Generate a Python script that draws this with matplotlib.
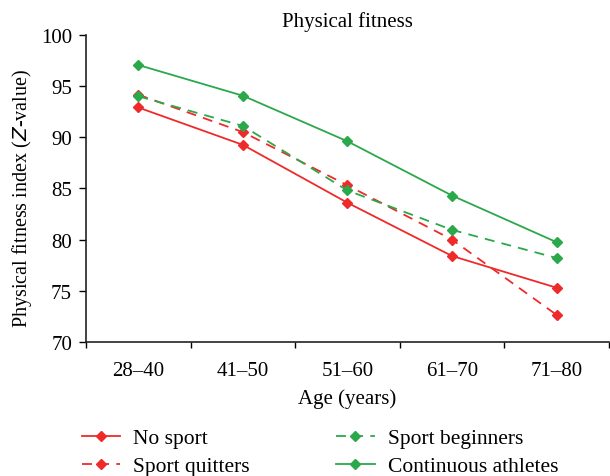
import matplotlib
matplotlib.use("Agg")
import matplotlib.pyplot as plt

categories = ["28–40", "41–50", "51–60", "61–70", "71–80"]
no_sport = [92.9, 89.25, 83.6, 78.4, 75.3]
sport_quitters = [94.15, 90.5, 85.3, 80.0, 72.65]
sport_beginners = [94.0, 91.1, 84.8, 80.95, 78.2]
continuous_athletes = [97.05, 94.05, 89.6, 84.3, 79.75]

RED = "#ee2a2a"
GREEN = "#2ba84a"

plt.rcParams['font.family'] = ['Liberation Serif', 'DejaVu Serif']

fig = plt.figure(figsize=(6.1, 4.77), dpi=100)
ax = fig.add_axes([0.141, 0.281, 0.857, 0.644])

x = list(range(len(categories)))
series = [
    ("No sport", no_sport, RED, "-"),
    ("Sport quitters", sport_quitters, RED, (0, (5.5, 4))),
    ("Sport beginners", sport_beginners, GREEN, (0, (5.5, 4))),
    ("Continuous athletes", continuous_athletes, GREEN, "-"),
]
handles = {}
for name, vals, col, ls in series:
    h, = ax.plot(x, vals, color=col, linestyle=ls, linewidth=1.3,
                 marker="D", markersize=5, label=name)
    handles[name] = h

ax.set_xlim(-0.5, 4.5)
ax.set_ylim(70, 100)
ax.set_yticks([70, 75, 80, 85, 90, 95, 100])
ax.set_xticks(x)
ax.set_xticklabels(categories)
ax.set_xticks([-0.5, 0.5, 1.5, 2.5, 3.5, 4.5], minor=True)
ax.tick_params(axis='x', which='major', length=0, labelsize=15, pad=14)
ax.tick_params(axis='x', which='minor', length=4, direction='out', width=1)
ax.tick_params(axis='y', length=5, direction='out', width=1, labelsize=15, pad=5)
for s in ['top', 'right']:
    ax.spines[s].set_visible(False)
for s in ['left', 'bottom']:
    ax.spines[s].set_linewidth(1.2)
    ax.spines[s].set_color("#222222")

ax.set_title("Physical fitness", fontsize=15, pad=6)
ax.set_xlabel("Age (years)", fontsize=15, labelpad=6)
ax.set_ylabel("Physical fitness index ($\\mathit{Z}$-value)", fontsize=14.5)
ax.yaxis.set_label_coords(-0.1, 0.47)

order = ["No sport", "Sport quitters", "Sport beginners", "Continuous athletes"]
fig.legend([handles[n] for n in order], order, ncol=2, frameon=False,
           loc='center left', bbox_to_anchor=(0.102, 0.05), fontsize=15.5,
           handlelength=1.8, columnspacing=4.0, labelspacing=0.38, handletextpad=0.6)

fig.savefig("out.png", dpi=100)
